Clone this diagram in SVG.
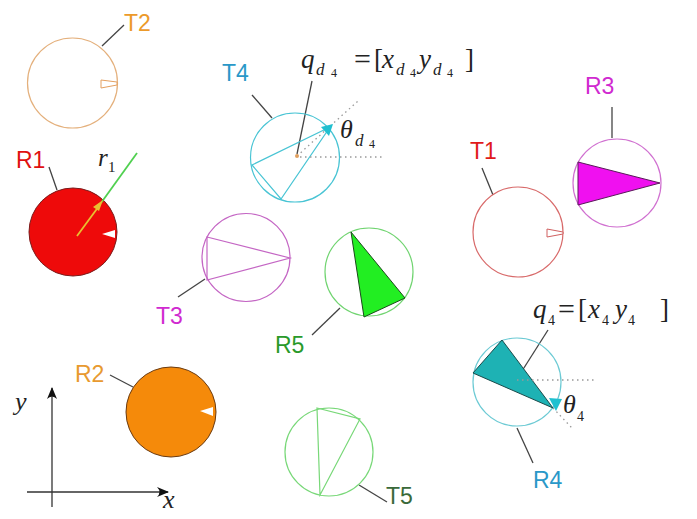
<svg xmlns="http://www.w3.org/2000/svg" width="697" height="519" viewBox="0 0 697 519">
<style>
.lbl{font-family:"Liberation Sans",Arial,sans-serif;font-size:23px}
.m{font-family:"Liberation Serif","Times New Roman",serif;font-style:italic;fill:#222}
.r{font-family:"Liberation Serif","Times New Roman",serif;fill:#222}
.lead{stroke:#444;stroke-width:1.3;fill:none}
.dot{stroke:#999;stroke-width:1.3;stroke-dasharray:1.5 3.5;fill:none}
.mk{fill:#fff;stroke-width:1}
</style>
<defs>
<marker id="ax" viewBox="0 0 12 10" refX="11" refY="5" markerWidth="12" markerHeight="10" markerUnits="userSpaceOnUse" orient="auto">
<path d="M0,0 Q5,5 0,10 L12,5 Z" fill="#111"/>
</marker>
</defs>
<rect width="697" height="519" fill="#fff"/>

<g id="connectors">
<line class="lead" x1="102" y1="46" x2="124" y2="25"/>
<line class="lead" x1="49" y1="167" x2="57" y2="190"/>
<line class="lead" x1="252" y1="95" x2="272" y2="118"/>
<line class="lead" x1="312" y1="81" x2="297" y2="154"/>
<line class="lead" x1="178" y1="297" x2="205" y2="279"/>
<line class="lead" x1="312" y1="335" x2="340" y2="308"/>
<line class="lead" x1="482" y1="168" x2="493" y2="195"/>
<line class="lead" x1="612" y1="107" x2="612" y2="138"/>
<line class="lead" x1="110" y1="375" x2="133" y2="387"/>
<line class="lead" x1="359" y1="485" x2="387" y2="502"/>
<line class="lead" x1="548" y1="330" x2="515" y2="382"/>
<line class="lead" x1="517" y1="428" x2="533" y2="463"/>
</g>

<g id="T2">
<circle cx="72.5" cy="83" r="45" fill="none" stroke="#e4b07c" stroke-width="1.2"/>
<polygon class="mk" stroke="#e4a060" points="101,80 101,88 117,85 117,82"/>
<text class="lbl" x="124" y="31" fill="#ec9a2a">T2</text>
</g>

<g id="R1">
<circle cx="73" cy="232" r="44" fill="#ee0a0a" stroke="#7a1a1a" stroke-width="1"/>
<polygon class="mk" stroke="none" points="102,234 115,230 115,238"/>
<line x1="101" y1="203" x2="137" y2="153" stroke="#50d050" stroke-width="1.8"/>
<line x1="77" y1="236" x2="99" y2="206" stroke="#e8c030" stroke-width="1.8"/>
<polygon points="103,200 93,207 99,211" fill="#e8c030"/>
<text class="lbl" x="16" y="168" fill="#e01010">R1</text>
<text class="m" x="98" y="166" font-size="25">r</text>
<text class="r" x="108" y="172" font-size="15">1</text>
</g>

<g id="T4">
<circle cx="295" cy="157.5" r="44.5" fill="none" stroke="#48c4d4" stroke-width="1.2"/>
<polygon points="252,165 281,199 330,127" fill="none" stroke="#48c4d4" stroke-width="1.2"/>
<line class="dot" x1="300" y1="157" x2="382" y2="157"/>
<line class="dot" x1="297" y1="156" x2="358" y2="101"/>
<polygon points="333,124 321,127 329,136" fill="#20c0d0"/>
<circle cx="297" cy="156" r="2" fill="#e0a060"/>
<text class="lbl" x="222" y="81" fill="#2a98c8">T4</text>
<text class="m" x="301" y="68" font-size="27">q</text>
<text class="m" x="316" y="75" font-size="17">d</text>
<text class="r" x="331" y="77" font-size="12">4</text>
<text class="r" x="354" y="69" font-size="30">=</text>
<text class="r" x="374" y="68" font-size="27">[</text>
<text class="m" x="382" y="68" font-size="27">x</text>
<text class="m" x="396" y="75" font-size="17">d</text>
<text class="r" x="410" y="77" font-size="12">4</text>
<text class="m" x="419" y="68" font-size="27">y</text>
<text class="m" x="433" y="75" font-size="17">d</text>
<text class="r" x="447" y="77" font-size="12">4</text>
<text class="r" x="465" y="68" font-size="27">]</text>
<text class="m" x="340" y="138" font-size="26">θ</text>
<text class="m" x="355" y="146" font-size="17">d</text>
<text class="r" x="369" y="148" font-size="12">4</text>
</g>

<g id="T3">
<circle cx="246" cy="257.5" r="44" fill="none" stroke="#c466c4" stroke-width="1.2"/>
<polygon points="207,237 290,258 207,280" fill="none" stroke="#c466c4" stroke-width="1.2"/>
<text class="lbl" x="156" y="324" fill="#d02ad0">T3</text>
</g>

<g id="R5">
<circle cx="369" cy="272" r="44" fill="none" stroke="#70d470" stroke-width="1.2"/>
<polygon points="351,232 405,298 364,317" fill="#22ee22" stroke="#1a4a1a" stroke-width="1"/>
<text class="lbl" x="275" y="353" fill="#2a9a2a">R5</text>
</g>

<g id="T1">
<circle cx="518" cy="232" r="45" fill="none" stroke="#d86a6a" stroke-width="1.2"/>
<polygon class="mk" stroke="#d06060" points="547,229 547,237 563,234 563,232"/>
<text class="lbl" x="470" y="159" fill="#e01a1a">T1</text>
</g>

<g id="R3">
<circle cx="617" cy="183" r="44" fill="none" stroke="#d070d0" stroke-width="1.2"/>
<polygon points="578,162 660,183 578,205" fill="#f010f0" stroke="#5a1a5a" stroke-width="1"/>
<text class="lbl" x="585" y="94" fill="#d02ad0">R3</text>
</g>

<g id="R2">
<circle cx="171" cy="412" r="45" fill="#f58a0a" stroke="#6a3a10" stroke-width="1"/>
<polygon class="mk" stroke="none" points="200,411 213,407 213,416"/>
<text class="lbl" x="75" y="382" fill="#e89a30">R2</text>
</g>

<g id="axes">
<line x1="52" y1="507" x2="52" y2="388" stroke="#333" stroke-width="1.3" marker-end="url(#ax)"/>
<line x1="27" y1="492" x2="168" y2="492" stroke="#333" stroke-width="1.3" marker-end="url(#ax)"/>
<text class="m" x="15" y="410" font-size="26">y</text>
<text class="m" x="163" y="508" font-size="26">x</text>
</g>

<g id="T5">
<circle cx="329" cy="452" r="44" fill="none" stroke="#78d878" stroke-width="1.2"/>
<polygon points="317,408 360,419 320,495" fill="none" stroke="#78d878" stroke-width="1.2"/>
<text class="lbl" x="386" y="504" fill="#3a6a3a">T5</text>
</g>

<g id="R4">
<circle cx="517" cy="382" r="44" fill="none" stroke="#6ccad4" stroke-width="1.2"/>
<polygon points="502,340 473,373 553,408" fill="#1eb2b4" stroke="#1a4a4a" stroke-width="1"/>
<line class="dot" x1="517" y1="380" x2="595" y2="380"/>
<line class="dot" x1="553" y1="408" x2="572" y2="428"/>
<polygon points="556,411 549,398 562,399" fill="#20c0d0"/>
<text class="lbl" x="533" y="488" fill="#2a98c8">R4</text>
<text class="m" x="533" y="318" font-size="27">q</text>
<text class="r" x="548" y="325" font-size="14">4</text>
<text class="r" x="558" y="319" font-size="30">=</text>
<text class="r" x="578" y="318" font-size="27">[</text>
<text class="m" x="588" y="318" font-size="27">x</text>
<text class="r" x="602" y="325" font-size="14">4</text>
<text class="m" x="615" y="318" font-size="27">y</text>
<text class="r" x="628" y="325" font-size="14">4</text>
<text class="r" x="660" y="318" font-size="27">]</text>
<text class="m" x="563" y="413" font-size="26">θ</text>
<text class="r" x="577" y="421" font-size="14">4</text>
</g>
</svg>
